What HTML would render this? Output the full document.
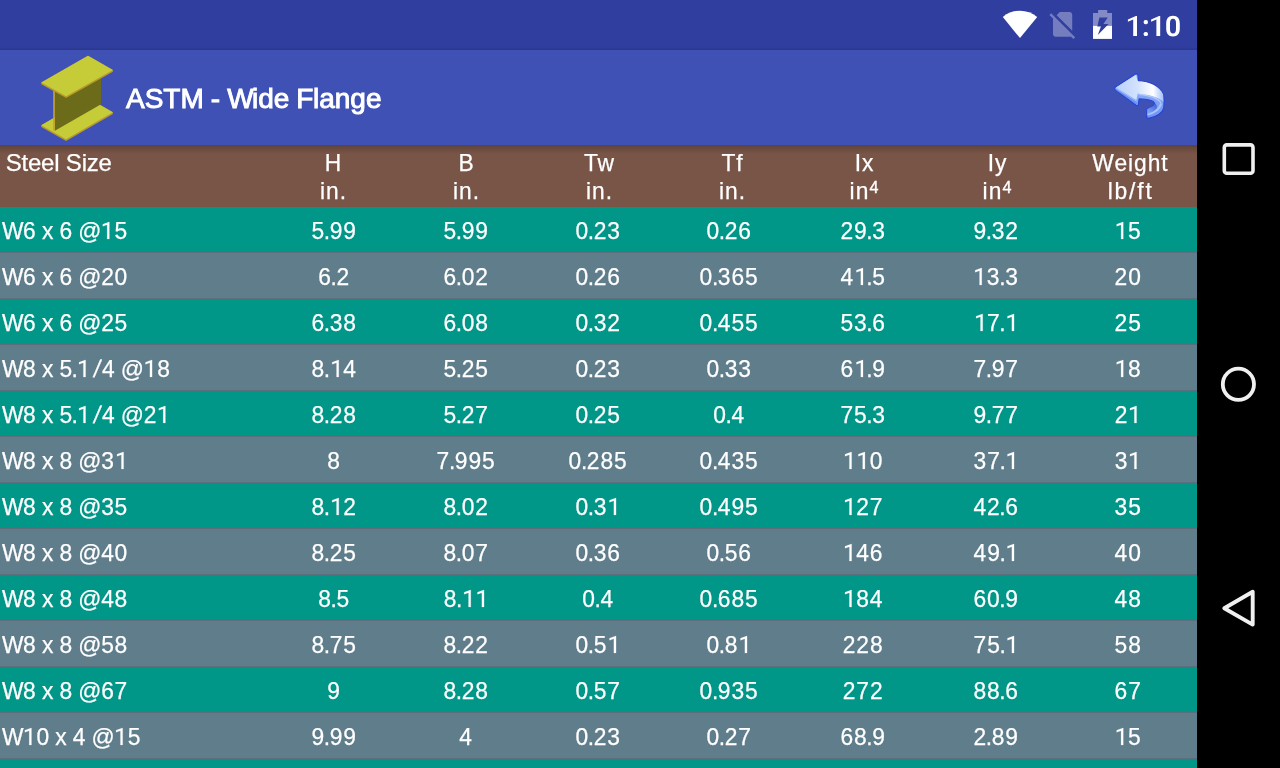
<!DOCTYPE html>
<html><head><meta charset="utf-8"><title>ASTM - Wide Flange</title>
<style>
html,body{margin:0;padding:0;}
body{width:1280px;height:768px;overflow:hidden;background:#000;font-family:"Liberation Sans",sans-serif;color:#fff;position:relative;}
#app{will-change:transform;position:absolute;left:0;top:0;width:1197px;height:768px;overflow:hidden;background:#607D8B;}
#status{position:absolute;left:0;top:0;width:1197px;height:50px;background:#303F9F;}
#status .sh{position:absolute;left:0;top:47px;width:100%;height:3px;background:linear-gradient(#303F9F,#2D3B96 40%,#2A3788);}
#clock{position:absolute;right:16.5px;top:10.3px;font-size:28.5px;line-height:32px;letter-spacing:-0.4px;color:#fff;font-weight:bold;}
#clock i{font-style:normal;margin:0 -0.9px 0 -0.6px;position:relative;top:-1px}
#bar{position:absolute;left:0;top:50px;width:1197px;height:95px;background:#3F51B5;}
#title{position:absolute;left:126px;top:23.6px;font-size:28px;line-height:50px;white-space:nowrap;color:#fff;-webkit-text-stroke:0.95px #fff;word-spacing:-0.7px;}
#title .w{letter-spacing:-1.8px}#title .f{letter-spacing:-0.5px}
#thead{-webkit-text-stroke:0.25px #fff;position:absolute;left:0;top:145px;width:1197px;height:62px;background:#795548;}
#thead:before{content:"";position:absolute;left:0;top:0;width:100%;height:9px;background:linear-gradient(rgba(0,0,0,0.22),rgba(0,0,0,0));}
#list{position:absolute;left:0;top:207px;width:1197px;height:561px;}
.row{-webkit-text-stroke:0.25px #fff;position:absolute;left:0;width:1197px;height:45px;border-bottom:1px solid #5A6E7C;}
.row.t{background:#009688;}
.row.g{background:#607D8B;}
.c0{position:absolute;left:2.4px;top:0;font-size:24px;line-height:47px;white-space:nowrap;letter-spacing:0.7px;word-spacing:-1.6px;transform:scaleX(0.95);transform-origin:0 0;}
.c{position:absolute;top:0;width:132.35px;text-align:center;font-size:24px;line-height:47px;white-space:nowrap;letter-spacing:1px;transform:scaleX(0.95);}
.row .c1{left:267.50px}.row .c2{left:399.85px}.row .c3{left:532.20px}.row .c4{left:663.25px}.row .c5{left:796.90px}.row .c6{left:930.15px}.row .c7{left:1062.40px}#thead .c1{left:266.5px}#thead .c2{left:399.5px}#thead .c3{left:532.5px}#thead .c4{left:665.5px}#thead .c5{left:798px}#thead .c6{left:931px}#thead .c7{left:1064px}
#thead .c0{left:5.7px;top:4px;line-height:28px;letter-spacing:-0.2px;word-spacing:0;transform:none;}
#thead .c{top:4px;line-height:28px;width:133px;}
sup{font-size:17px;line-height:0;vertical-align:6.2px;-webkit-text-stroke:0.4px #fff;margin-left:0.2px;}
.lb{letter-spacing:1.9px;margin-right:-1.9px;position:relative;left:-0.8px;}
#nav{position:absolute;left:1197px;top:0;width:83px;height:768px;background:#000;}
#nav svg{position:absolute;left:0;top:0;}

.row i{font-style:normal;margin:0 -1.4px;}
.row .w{letter-spacing:-0.45px;}
.row .a{letter-spacing:-0.2px;}
.o{width:14px;height:18px;vertical-align:-0.7px;overflow:visible;}
.row b{font-weight:normal;display:inline-block;transform:skewX(-10deg);margin:0 1.1px 0 3.7px;}

</style></head>
<body>
<svg width="0" height="0" style="position:absolute"><defs><path id="o1" d="M8.54 0H6.36V-14.3L1.99-12.7V-14.65L8.2-16.95H8.54Z" fill="#fff" stroke="#fff" stroke-width="0.2"/></defs></svg>
<div id="app">
<div id="status"><div class="sh"></div>
<svg id="sicons" width="207" height="50" viewBox="990 0 207 50" style="position:absolute;left:990px;top:0">
<path d="M1020 38.1 L1002.8 16.9 A27.3 27.3 0 0 1 1037.2 16.9 Z" fill="#fff"/>
<g transform="translate(1046.1 7.9) scale(1.375)" fill="#fff" fill-opacity="0.33"><path d="M18.99 5c0-1.1-.89-2-1.99-2h-7L7.66 5.34 19 16.68 18.99 5zM3.65 3.88L2.38 5.15 5 7.77V19c0 1.1.9 2 2 2h10.01c.35 0 .67-.1.96-.26l1.88 1.88 1.27-1.27L3.65 3.88z"/></g>
<path d="M1098.1 10.1 H1107.2 V13.1 H1112 V25.9 H1093 V13.1 H1098.1 Z" fill="#fff" fill-opacity="0.4"/>
<path d="M1093 25.9 H1112 V38.9 H1093 Z" fill="#fff"/>
<path d="M1099.4 17.4 H1107.8 L1103.4 24 H1108.6 L1097.8 35 L1100.9 26.6 H1097.3 Z" fill="#303F9F"/>
<g fill="#fff">
<path id="c1" d="M1137 36 H1133.2 V19.6 L1127.9 21.8 V19.5 L1135.9 15.9 H1137 Z"/>
<path d="M1160.2 36 H1156.4 V19.6 L1151.1 21.8 V19.5 L1159.1 15.9 H1160.2 Z"/>
<rect x="1143.7" y="20.1" width="4.2" height="4.2" rx="1.7"/><rect x="1143.7" y="31.9" width="4.2" height="4.2" rx="1.7"/>
<path fill-rule="evenodd" d="M1173 15.65 C1177.6 15.65 1179.8 18.6 1179.8 23.6 V28.5 C1179.8 33.5 1177.6 36.45 1173 36.45 C1168.4 36.45 1166.2 33.5 1166.2 28.5 V23.6 C1166.2 18.6 1168.4 15.65 1173 15.65 Z M1173 18.7 C1170.8 18.7 1170 20.3 1170 23.2 V28.9 C1170 31.8 1170.8 33.4 1173 33.4 C1175.2 33.4 1176 31.8 1176 28.9 V23.2 C1176 20.3 1175.2 18.7 1173 18.7 Z"/>
</g>
</svg>
</div>
<div id="bar">
<svg width="90" height="95" viewBox="30 50 90 95" style="position:absolute;left:30px;top:0">
<polygon points="88,98 112.9,112.3 112.9,114 66.1,141.1 41.25,127 41.25,125.3" fill="#B79A2C"/>
<polygon points="88,98 112.9,112.3 66.1,139.3 41.25,125.3" fill="#C6CC37"/>
<polygon points="54.9,88 101,68 101,104.3 54.9,130.8" fill="#6B6B1A"/>
<polygon points="53.2,88 54.9,88 54.9,131.2 53.2,130.3" fill="#C2A22E"/>
<polygon points="88,55.7 112.9,70 112.9,71.7 66.1,98 41.25,84.3 41.25,82.6" fill="#B79A2C"/>
<polygon points="88,55.7 112.9,70 66.1,96.2 41.25,82.6" fill="#C6CC37"/>
</svg>
<div id="title">ASTM - <span class="w">W</span>ide <span class="f">F</span>lange</div>
<svg width="70" height="64" viewBox="1110 68 70 64" style="position:absolute;left:1110px;top:18px">
<defs>
<linearGradient id="gt" gradientUnits="userSpaceOnUse" x1="80" y1="0" x2="735" y2="0"><stop offset="0" stop-color="#B9D1FB"/><stop offset="0.45" stop-color="#D3E2FD"/><stop offset="0.78" stop-color="#FFFFFF"/><stop offset="1" stop-color="#A3BEF8"/></linearGradient>
<linearGradient id="gd" gradientUnits="userSpaceOnUse" x1="640" y1="470" x2="520" y2="620"><stop offset="0" stop-color="#3558D8"/><stop offset="1" stop-color="#86A6F6"/></linearGradient>
<linearGradient id="gs" gradientUnits="userSpaceOnUse" x1="0" y1="250" x2="0" y2="700"><stop offset="0" stop-color="#8FB0F8"/><stop offset="1" stop-color="#6D93F4"/></linearGradient>
</defs>
<g transform="translate(1110 68) scale(0.0729)">
<path d="M68,268 L352,82 Q383,75 386,108 L386,178 C540,180 690,250 735,365 C745,420 745,500 738,546 C720,620 640,665 530,692 Q505,695 505,672 L505,565 C560,545 610,520 612,485 C600,450 520,428 400,425 L390,500 Q385,528 358,512 L75,300 Q60,285 68,268 Z" fill="url(#gs)" stroke="#2545D4" stroke-width="17" stroke-linejoin="round"/>
<path d="M512,563 C570,540 620,510 614,485 C640,500 652,540 640,560 C610,600 560,612 512,628 Z" fill="url(#gd)"/>
<path d="M512,628 C600,605 660,560 690,480 L716,492 C690,580 610,632 512,652 Z" fill="#A9C4FA"/>
<path d="M395,362 C590,384 670,430 700,480" fill="none" stroke="#B3CAFB" stroke-width="16"/>
<path d="M80,272 L362,446 L365,468 L78,286 Z" fill="#9CBBF9"/><path d="M78,286 L365,468 L372,508 L74,298 Z" fill="#6A90F3"/>
<path d="M80,266 L355,92 L383,182 C540,186 688,255 730,368 L730,462 C690,425 600,372 380,350 L362,440 Z" fill="url(#gt)"/>
</g>
</svg>
</div>
<div id="thead">
<div class="c0 h">Steel Size</div>
<div class="c c1 h">H<br>in.</div>
<div class="c c2 h">B<br>in.</div>
<div class="c c3 h">Tw<br>in.</div>
<div class="c c4 h">Tf<br>in.</div>
<div class="c c5 h">Ix<br>in<sup>4</sup></div>
<div class="c c6 h">Iy<br>in<sup>4</sup></div>
<div class="c c7 h">Weight<br><span class="lb">lb/ft</span></div>
</div>
<div id="list">
<div class="row t" style="top:0px"><div class="c0"><span class="w">W</span>6 x 6 <span class="a">@</span><svg class="o" viewBox="0 -17 13.3 18" preserveAspectRatio="none"><use href="#o1"/></svg>5</div><div class="c c1">5<i>.</i>99</div><div class="c c2">5<i>.</i>99</div><div class="c c3">0<i>.</i>23</div><div class="c c4">0<i>.</i>26</div><div class="c c5">29<i>.</i>3</div><div class="c c6">9<i>.</i>32</div><div class="c c7"><svg class="o" viewBox="0 -17 13.3 18" preserveAspectRatio="none"><use href="#o1"/></svg>5</div></div>
<div class="row g" style="top:46px"><div class="c0"><span class="w">W</span>6 x 6 <span class="a">@</span>20</div><div class="c c1">6<i>.</i>2</div><div class="c c2">6<i>.</i>02</div><div class="c c3">0<i>.</i>26</div><div class="c c4">0<i>.</i>365</div><div class="c c5">4<svg class="o" viewBox="0 -17 13.3 18" preserveAspectRatio="none"><use href="#o1"/></svg><i>.</i>5</div><div class="c c6"><svg class="o" viewBox="0 -17 13.3 18" preserveAspectRatio="none"><use href="#o1"/></svg>3<i>.</i>3</div><div class="c c7">20</div></div>
<div class="row t" style="top:92px"><div class="c0"><span class="w">W</span>6 x 6 <span class="a">@</span>25</div><div class="c c1">6<i>.</i>38</div><div class="c c2">6<i>.</i>08</div><div class="c c3">0<i>.</i>32</div><div class="c c4">0<i>.</i>455</div><div class="c c5">53<i>.</i>6</div><div class="c c6"><svg class="o" viewBox="0 -17 13.3 18" preserveAspectRatio="none"><use href="#o1"/></svg>7<i>.</i><svg class="o" viewBox="0 -17 13.3 18" preserveAspectRatio="none"><use href="#o1"/></svg></div><div class="c c7">25</div></div>
<div class="row g" style="top:138px"><div class="c0"><span class="w">W</span>8 x 5<i>.</i><svg class="o" viewBox="0 -17 13.3 18" preserveAspectRatio="none"><use href="#o1"/></svg><b>/</b>4 <span class="a">@</span><svg class="o" viewBox="0 -17 13.3 18" preserveAspectRatio="none"><use href="#o1"/></svg>8</div><div class="c c1">8<i>.</i><svg class="o" viewBox="0 -17 13.3 18" preserveAspectRatio="none"><use href="#o1"/></svg>4</div><div class="c c2">5<i>.</i>25</div><div class="c c3">0<i>.</i>23</div><div class="c c4">0<i>.</i>33</div><div class="c c5">6<svg class="o" viewBox="0 -17 13.3 18" preserveAspectRatio="none"><use href="#o1"/></svg><i>.</i>9</div><div class="c c6">7<i>.</i>97</div><div class="c c7"><svg class="o" viewBox="0 -17 13.3 18" preserveAspectRatio="none"><use href="#o1"/></svg>8</div></div>
<div class="row t" style="top:184px"><div class="c0"><span class="w">W</span>8 x 5<i>.</i><svg class="o" viewBox="0 -17 13.3 18" preserveAspectRatio="none"><use href="#o1"/></svg><b>/</b>4 <span class="a">@</span>2<svg class="o" viewBox="0 -17 13.3 18" preserveAspectRatio="none"><use href="#o1"/></svg></div><div class="c c1">8<i>.</i>28</div><div class="c c2">5<i>.</i>27</div><div class="c c3">0<i>.</i>25</div><div class="c c4">0<i>.</i>4</div><div class="c c5">75<i>.</i>3</div><div class="c c6">9<i>.</i>77</div><div class="c c7">2<svg class="o" viewBox="0 -17 13.3 18" preserveAspectRatio="none"><use href="#o1"/></svg></div></div>
<div class="row g" style="top:230px"><div class="c0"><span class="w">W</span>8 x 8 <span class="a">@</span>3<svg class="o" viewBox="0 -17 13.3 18" preserveAspectRatio="none"><use href="#o1"/></svg></div><div class="c c1">8</div><div class="c c2">7<i>.</i>995</div><div class="c c3">0<i>.</i>285</div><div class="c c4">0<i>.</i>435</div><div class="c c5"><svg class="o" viewBox="0 -17 13.3 18" preserveAspectRatio="none"><use href="#o1"/></svg><svg class="o" viewBox="0 -17 13.3 18" preserveAspectRatio="none"><use href="#o1"/></svg>0</div><div class="c c6">37<i>.</i><svg class="o" viewBox="0 -17 13.3 18" preserveAspectRatio="none"><use href="#o1"/></svg></div><div class="c c7">3<svg class="o" viewBox="0 -17 13.3 18" preserveAspectRatio="none"><use href="#o1"/></svg></div></div>
<div class="row t" style="top:276px"><div class="c0"><span class="w">W</span>8 x 8 <span class="a">@</span>35</div><div class="c c1">8<i>.</i><svg class="o" viewBox="0 -17 13.3 18" preserveAspectRatio="none"><use href="#o1"/></svg>2</div><div class="c c2">8<i>.</i>02</div><div class="c c3">0<i>.</i>3<svg class="o" viewBox="0 -17 13.3 18" preserveAspectRatio="none"><use href="#o1"/></svg></div><div class="c c4">0<i>.</i>495</div><div class="c c5"><svg class="o" viewBox="0 -17 13.3 18" preserveAspectRatio="none"><use href="#o1"/></svg>27</div><div class="c c6">42<i>.</i>6</div><div class="c c7">35</div></div>
<div class="row g" style="top:322px"><div class="c0"><span class="w">W</span>8 x 8 <span class="a">@</span>40</div><div class="c c1">8<i>.</i>25</div><div class="c c2">8<i>.</i>07</div><div class="c c3">0<i>.</i>36</div><div class="c c4">0<i>.</i>56</div><div class="c c5"><svg class="o" viewBox="0 -17 13.3 18" preserveAspectRatio="none"><use href="#o1"/></svg>46</div><div class="c c6">49<i>.</i><svg class="o" viewBox="0 -17 13.3 18" preserveAspectRatio="none"><use href="#o1"/></svg></div><div class="c c7">40</div></div>
<div class="row t" style="top:368px"><div class="c0"><span class="w">W</span>8 x 8 <span class="a">@</span>48</div><div class="c c1">8<i>.</i>5</div><div class="c c2">8<i>.</i><svg class="o" viewBox="0 -17 13.3 18" preserveAspectRatio="none"><use href="#o1"/></svg><svg class="o" viewBox="0 -17 13.3 18" preserveAspectRatio="none"><use href="#o1"/></svg></div><div class="c c3">0<i>.</i>4</div><div class="c c4">0<i>.</i>685</div><div class="c c5"><svg class="o" viewBox="0 -17 13.3 18" preserveAspectRatio="none"><use href="#o1"/></svg>84</div><div class="c c6">60<i>.</i>9</div><div class="c c7">48</div></div>
<div class="row g" style="top:414px"><div class="c0"><span class="w">W</span>8 x 8 <span class="a">@</span>58</div><div class="c c1">8<i>.</i>75</div><div class="c c2">8<i>.</i>22</div><div class="c c3">0<i>.</i>5<svg class="o" viewBox="0 -17 13.3 18" preserveAspectRatio="none"><use href="#o1"/></svg></div><div class="c c4">0<i>.</i>8<svg class="o" viewBox="0 -17 13.3 18" preserveAspectRatio="none"><use href="#o1"/></svg></div><div class="c c5">228</div><div class="c c6">75<i>.</i><svg class="o" viewBox="0 -17 13.3 18" preserveAspectRatio="none"><use href="#o1"/></svg></div><div class="c c7">58</div></div>
<div class="row t" style="top:460px"><div class="c0"><span class="w">W</span>8 x 8 <span class="a">@</span>67</div><div class="c c1">9</div><div class="c c2">8<i>.</i>28</div><div class="c c3">0<i>.</i>57</div><div class="c c4">0<i>.</i>935</div><div class="c c5">272</div><div class="c c6">88<i>.</i>6</div><div class="c c7">67</div></div>
<div class="row g" style="top:506px"><div class="c0"><span class="w">W</span><svg class="o" viewBox="0 -17 13.3 18" preserveAspectRatio="none"><use href="#o1"/></svg>0 x 4 <span class="a">@</span><svg class="o" viewBox="0 -17 13.3 18" preserveAspectRatio="none"><use href="#o1"/></svg>5</div><div class="c c1">9<i>.</i>99</div><div class="c c2">4</div><div class="c c3">0<i>.</i>23</div><div class="c c4">0<i>.</i>27</div><div class="c c5">68<i>.</i>9</div><div class="c c6">2<i>.</i>89</div><div class="c c7"><svg class="o" viewBox="0 -17 13.3 18" preserveAspectRatio="none"><use href="#o1"/></svg>5</div></div>
<div class="row t" style="top:552px"></div>
</div>
</div>
<div id="nav">
<svg width="83" height="768" viewBox="1197 0 83 768">
<rect x="1224.3" y="144.9" width="28.7" height="28.3" rx="2.5" fill="none" stroke="#F0F0F0" stroke-width="3.6"/>
<circle cx="1238.4" cy="384.3" r="15.6" fill="none" stroke="#F0F0F0" stroke-width="3.8"/>
<path d="M1252.7 591.8 V624.6 L1224.3 608.2 Z" fill="none" stroke="#F0F0F0" stroke-width="3.9" stroke-linejoin="round"/>
</svg>
</div>
</body></html>
